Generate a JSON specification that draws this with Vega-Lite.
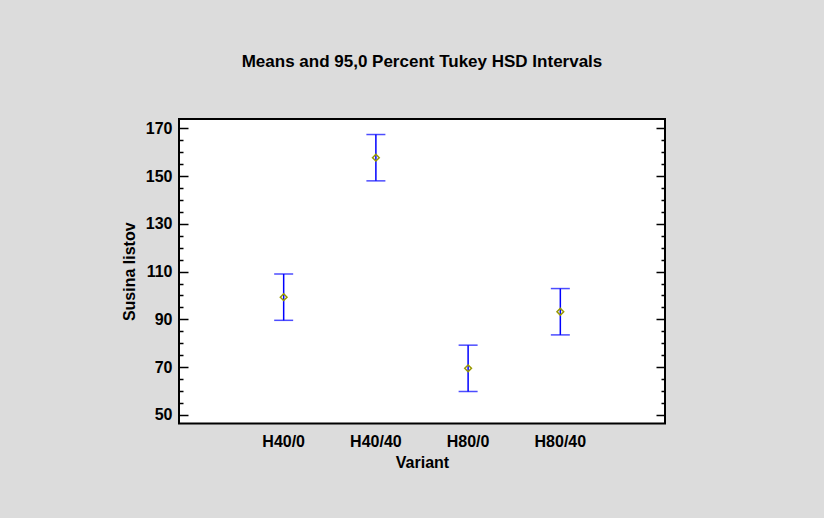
{
  "$schema": "https://vega.github.io/schema/vega-lite/v6.json",
  "autosize": {"type": "none"},
  "width": 486,
  "height": 304.5,
  "padding": {"left": 179, "top": 119, "right": 159, "bottom": 94.5},
  "background": "#dcdcdc",
  "title": {
    "text": "Means and 95,0 Percent Tukey HSD Intervals",
    "font": "Liberation Sans",
    "fontSize": 17,
    "fontWeight": "bold",
    "color": "#000000",
    "anchor": "middle",
    "baseline": "alphabetic",
    "offset": 35.5
  },
  "config": {
    "view": {"fill": "#ffffff", "stroke": "#000000", "strokeWidth": 2},
    "axis": {
      "labelFont": "Liberation Sans",
      "labelFontSize": 16,
      "labelFontWeight": "bold",
      "labelColor": "#000000",
      "titleFont": "Liberation Sans",
      "titleFontSize": 16,
      "titleFontWeight": "bold",
      "titleColor": "#000000",
      "grid": false
    }
  },
  "data": {
    "values": [
      {"variant": "H40/0", "mean": 99.3, "lower": 89.6, "upper": 109.0},
      {"variant": "H40/40", "mean": 157.7, "lower": 148.0, "upper": 167.4},
      {"variant": "H80/0", "mean": 69.5, "lower": 59.8, "upper": 79.2},
      {"variant": "H80/40", "mean": 93.2, "lower": 83.5, "upper": 102.9}
    ]
  },
  "encoding": {
    "x": {
      "field": "variant",
      "type": "nominal",
      "sort": null,
      "scale": {"type": "band", "paddingInner": 0.73, "paddingOuter": 1},
      "axis": {
        "title": "Variant",
        "labelAngle": 0,
        "ticks": false,
        "domain": false,
        "labelPadding": 10,
        "titlePadding": 5
      }
    }
  },
  "layer": [
    {
      "mark": {"type": "rule", "color": "#0000ff", "strokeWidth": 1.5},
      "encoding": {
        "y": {
          "field": "lower",
          "type": "quantitative",
          "scale": {"domain": [46.4, 173.9], "nice": false, "zero": false},
          "axis": {
            "orient": "left",
            "title": "Susina listov",
            "values": [50, 55, 60, 65, 70, 75, 80, 85, 90, 95, 100, 105, 110, 115, 120, 125, 130, 135, 140, 145, 150, 155, 160, 165, 170],
            "labelExpr": "datum.value % 20 === 10 ? datum.label : ''",
            "tickSize": {"condition": {"test": "datum.value % 20 === 10", "value": -9}, "value": -4},
            "tickWidth": 1.5,
            "tickColor": "#000000",
            "domain": false,
            "labelPadding": 16,
            "titlePadding": 8
          }
        },
        "y2": {"field": "upper"}
      }
    },
    {
      "mark": {"type": "tick", "color": "#0000ff", "thickness": 1.5, "size": 19},
      "encoding": {
        "y": {"field": "upper", "type": "quantitative", "axis": null}
      }
    },
    {
      "mark": {"type": "tick", "color": "#0000ff", "thickness": 1.5, "size": 19},
      "encoding": {
        "y": {"field": "lower", "type": "quantitative", "axis": null}
      }
    },
    {
      "mark": {"type": "point", "shape": "diamond", "filled": false, "color": "#999900", "strokeWidth": 1.5, "size": 45, "opacity": 1},
      "encoding": {
        "y": {
          "field": "mean",
          "type": "quantitative",
          "axis": {
            "orient": "right",
            "title": null,
            "labels": false,
            "domain": false,
            "values": [50, 55, 60, 65, 70, 75, 80, 85, 90, 95, 100, 105, 110, 115, 120, 125, 130, 135, 140, 145, 150, 155, 160, 165, 170],
            "tickSize": {"condition": {"test": "datum.value % 20 === 10", "value": -9}, "value": -4},
            "tickWidth": 1.5,
            "tickColor": "#000000"
          }
        }
      }
    }
  ],
  "resolve": {"axis": {"y": "independent"}}
}
